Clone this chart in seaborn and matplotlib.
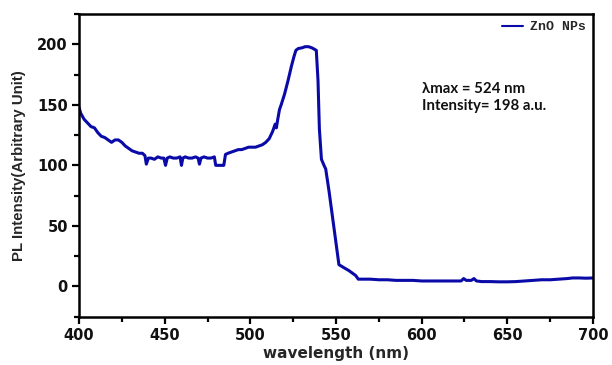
import matplotlib
matplotlib.use("Agg")
import matplotlib.pyplot as plt
from matplotlib.ticker import MultipleLocator
import seaborn as sns
import pandas as pd

# ---- data ----
wavelength = [400, 401, 403, 405, 407, 409, 411, 413, 415, 417, 419, 421, 423, 425, 427, 429,
              431, 433, 435, 437, 438.5, 439.3, 440.5, 442, 444, 446, 448, 449.5, 450.5, 451.5,
              453, 455, 457, 459, 459.8, 460.6, 462, 464, 466, 468, 469.5, 470.3, 471.2, 473,
              475, 477, 479, 479.8, 483.5, 484.5, 485.5, 487, 489, 491, 493, 495, 497, 499, 501,
              503, 505, 507, 509, 511, 513, 514.5, 515.2, 516, 517, 518, 520, 522, 524, 525.5,
              526.6, 528, 530, 532, 534, 536, 538.5, 539.5, 540.3, 541.5, 543, 544, 546, 548,
              550, 551.7, 554, 557.6, 560, 561.5, 563, 565, 570, 575, 580, 585, 590, 595, 600,
              605, 610, 615, 620, 623, 624.5, 626, 627.5, 629, 630.5, 632, 635, 640, 645, 650,
              655, 660, 665, 670, 675, 680, 685, 688, 692, 696, 700]
intensity = [148, 143, 138, 135, 132, 131, 127, 124, 123, 121, 119, 121, 121, 119, 116, 114,
             112, 111, 110, 110, 108, 101, 106, 106, 105, 107, 106, 106, 100, 106,
             107, 106, 106, 107, 100, 106, 107, 106, 106, 107, 106, 101, 106, 107,
             106, 106, 107, 100, 100, 100, 109, 110, 111, 112, 113, 113, 114, 115, 115,
             115, 116, 117, 119, 122, 128, 134, 131, 138, 146, 150, 159, 170, 182, 190,
             195, 196.5, 197, 198, 198, 197, 195, 170, 130, 105, 100, 97, 78, 57,
             36, 18, 16, 13, 10.5, 9, 6, 6, 6, 5.5, 5.5, 5, 5, 5, 4.5,
             4.5, 4.5, 4.5, 4.5, 4.5, 6.5, 5, 5, 5, 6.5, 4.5, 4, 4, 3.8, 3.8,
             4, 4.5, 5, 5.5, 5.5, 6, 6.5, 7, 7, 6.8, 7]
series_name = "ZnO NPs"
x_label = "wavelength (nm)"
y_label = "PL Intensity(Arbitrary Unit)"
annotation = "\u03bbmax = 524 nm\nIntensity= 198 a.u."

df = pd.DataFrame({"wavelength": wavelength, "intensity": intensity, "series": series_name})

sns.set_theme(style="white")
plt.rcParams["font.family"] = ["DejaVu Sans"]

fig = plt.figure(figsize=(6.12, 3.65), dpi=100)
ax = fig.add_axes([79 / 612, (365 - 316.7) / 365, (593 - 79) / 612, (316.7 - 14) / 365])

line_color = "#0a0aa8"
sns.lineplot(data=df, x="wavelength", y="intensity", hue="series", palette=[line_color],
             linewidth=2.2, ax=ax, estimator=None, sort=False)

ax.set_xlim(400, 700)
ax.set_ylim(-25, 225)
ax.xaxis.set_major_locator(MultipleLocator(50))
ax.xaxis.set_minor_locator(MultipleLocator(25))
ax.yaxis.set_major_locator(MultipleLocator(50))
ax.yaxis.set_minor_locator(MultipleLocator(25))

for s in ax.spines.values():
    s.set_visible(True)
    s.set_linewidth(1.8)
    s.set_color("black")

ax.tick_params(which="both", direction="out", bottom=True, left=True, top=False, right=False,
               color="black", width=1.6)
ax.tick_params(which="major", length=5, pad=3)
ax.tick_params(which="minor", length=3.5)

for lbl in ax.get_xticklabels() + ax.get_yticklabels():
    lbl.set_fontweight("bold")
    lbl.set_fontsize(10.5)
    lbl.set_family("DejaVu Sans")
    lbl.set_color("#111111")

ax.set_xlabel(x_label, fontsize=11, fontweight="bold", family="DejaVu Sans", labelpad=2)
ax.set_ylabel(y_label, fontsize=10.8, fontweight="bold", family="Liberation Sans", labelpad=8)

leg = ax.legend(loc="upper right", frameon=False, handlelength=1.6, handletextpad=0.5,
                borderaxespad=0.15, prop={"family": "Liberation Mono", "weight": "bold", "size": 9.5})
for h in leg.get_lines():
    h.set_linewidth(1.5)

ax.text(0.667, 0.775, annotation, transform=ax.transAxes, fontsize=10.8, fontweight="bold",
        family=["Lato", "DejaVu Sans"], va="top", ha="left", linespacing=1.3, color="#111111")

fig.savefig("out.png", dpi=100)
